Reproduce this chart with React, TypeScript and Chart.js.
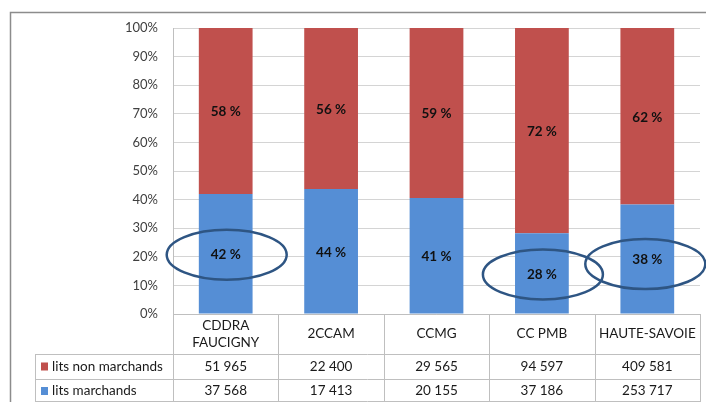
import React, { useEffect, useRef } from "react";
import { Chart, registerables } from "chart.js";

Chart.register(...registerables);

const categories: string[][] = [["CDDRA", "FAUCIGNY"], ["2CCAM"], ["CCMG"], ["CC PMB"], ["HAUTE-SAVOIE"]];
const seriesNames = ["lits non marchands", "lits marchands"];
const litsNonMarchands = [51965, 22400, 29565, 94597, 409581];
const litsMarchands = [37568, 17413, 20155, 37186, 253717];
const yTicks = [0, 10, 20, 30, 40, 50, 60, 70, 80, 90, 100];
const circledIndexes = [0, 3, 4];

const RED = "#C0504D";
const BLUE = "#558ED5";
const FONT = "Lato, 'Liberation Sans', sans-serif";

const fmt = (n: number) => {
  const s = String(n);
  return s.replace(/\B(?=(\d{3})+(?!\d))/g, " ");
};

export default function App() {
  const ref = useRef<HTMLCanvasElement>(null);
  useEffect(() => {
    if (!ref.current) return;
    const totals = litsMarchands.map((v, i) => v + litsNonMarchands[i]);
    const pctM = litsMarchands.map((v, i) => (v / totals[i]) * 100);
    const pctN = litsNonMarchands.map((v, i) => (v / totals[i]) * 100);

    const labelsPlugin = {
      id: "labels",
      afterDatasetsDraw(chart: any) {
        const ctx = chart.ctx;
        ctx.save();
        ctx.font = `bold 13.5px ${FONT}`;
        ctx.fillStyle = "#111";
        ctx.textAlign = "center";
        ctx.textBaseline = "middle";
        chart.data.datasets.forEach((ds: any, di: number) => {
          const meta = chart.getDatasetMeta(di);
          meta.data.forEach((el: any, i: number) => {
            const cy = (el.y + el.base) / 2;
            ctx.fillText(`${Math.round(ds.data[i])} %`, el.x, cy + 1);
          });
        });
        // ellipses around selected market labels
        const metaM = chart.getDatasetMeta(0);
        ctx.strokeStyle = "#2E5583";
        ctx.lineWidth = 2.5;
        circledIndexes.forEach((i, k) => {
          const el = metaM.data[i];
          const cy = (el.y + el.base) / 2;
          const dy = k === 2 ? 5 : 1;
          const dx = k === 2 ? -2 : 1;
          ctx.beginPath();
          ctx.ellipse(el.x + dx, cy + dy, 60, 25, 0, 0, Math.PI * 2);
          ctx.stroke();
        });
        ctx.restore();
      },
    };

    const tablePlugin = {
      id: "table",
      afterDraw(chart: any) {
        const ctx = chart.ctx;
        const area = chart.chartArea;
        const xs = chart.scales.x;
        const n = categories.length;
        const step = (area.right - area.left) / n;
        const y0 = area.bottom;
        const y1 = y0 + 40;
        const y2 = y1 + 25;
        const y3 = y2 + 22;
        const legendLeft = 35;
        ctx.save();
        // outer frame
        ctx.strokeStyle = "#8C8C8C";
        ctx.lineWidth = 1.5;
        ctx.beginPath();
        ctx.moveTo(10.5, 402);
        ctx.lineTo(10.5, 12.5);
        ctx.lineTo(706, 12.5);
        ctx.stroke();

        ctx.strokeStyle = "#BFBFBF";
        ctx.lineWidth = 1;
        ctx.beginPath();
        ctx.moveTo(area.left, Math.round(y0) + 0.5);
        ctx.lineTo(area.right, Math.round(y0) + 0.5);
        [y1, y2, y3].forEach((y) => {
          ctx.moveTo(legendLeft, Math.round(y) + 0.5);
          ctx.lineTo(area.right, Math.round(y) + 0.5);
        });
        ctx.moveTo(legendLeft + 0.5, y1);
        ctx.lineTo(legendLeft + 0.5, 402);
        for (let i = 0; i <= n; i++) {
          const x = Math.round(area.left + i * step) + 0.5;
          ctx.moveTo(x, y0);
          ctx.lineTo(x, 402);
        }
        ctx.stroke();

        ctx.fillStyle = "#1a1a1a";
        ctx.font = `13.5px ${FONT}`;
        ctx.textAlign = "center";
        ctx.textBaseline = "middle";
        categories.forEach((lines, i) => {
          const cx = xs.getPixelForValue(i);
          const cy = (y0 + y1) / 2;
          const lh = 17;
          lines.forEach((t, j) => {
            ctx.fillText(t, cx, cy + (j - (lines.length - 1) / 2) * lh);
          });
          ctx.fillText(fmt(litsNonMarchands[i]), cx, (y1 + y2) / 2);
          ctx.fillText(fmt(litsMarchands[i]), cx, (y2 + y3) / 2 + 1);
        });
        ctx.textAlign = "left";
        const rows = [
          { name: seriesNames[0], color: RED, y: (y1 + y2) / 2 },
          { name: seriesNames[1], color: BLUE, y: (y2 + y3) / 2 + 1 },
        ];
        rows.forEach((r) => {
          ctx.fillStyle = r.color;
          ctx.fillRect(41, r.y - 4, 7, 8);
          ctx.fillStyle = "#1a1a1a";
          ctx.fillText(r.name, 52, r.y);
        });
        ctx.restore();
      },
    };

    const chart = new Chart(ref.current, {
      type: "bar",
      data: {
        labels: categories.map((c) => c.join(" ")),
        datasets: [
          { label: seriesNames[1], data: pctM, backgroundColor: BLUE, categoryPercentage: 1, barPercentage: 0.51 },
          { label: seriesNames[0], data: pctN, backgroundColor: RED, categoryPercentage: 1, barPercentage: 0.51 },
        ],
      },
      options: {
        responsive: false,
        animation: false,
        layout: { padding: { left: 0, top: 28, right: 6, bottom: 88 } },
        plugins: { legend: { display: false }, tooltip: { enabled: false } },
        scales: {
          x: { stacked: true, display: false },
          y: {
            stacked: true,
            min: 0,
            max: 100,
            afterFit: (s: any) => {
              s.width = 173;
            },
            afterBuildTicks: (s: any) => {
              s.ticks = yTicks.map((v) => ({ value: v }));
            },
            ticks: {
              callback: (v: any) => `${v}%`,
              color: "#404040",
              font: { family: FONT, size: 13 },
              padding: 15,
            },
            grid: { color: "#D4D4D4", drawTicks: false },
            border: { color: "#BFBFBF" },
          },
        },
      },
      plugins: [labelsPlugin, tablePlugin],
    });
    return () => chart.destroy();
  }, []);

  return (
    <div style={{ position: "fixed", left: 0, top: 0, width: 706, height: 402, background: "#fff" }}>
      <canvas ref={ref} width={706} height={402} style={{ width: 706, height: 402, display: "block" }} />
    </div>
  );
}
